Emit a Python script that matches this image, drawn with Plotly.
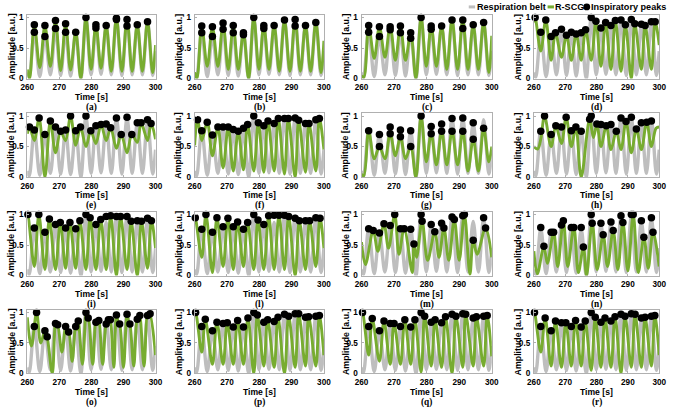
import plotly.graph_objects as go

W, H = 677, 410

# ---------------- data ----------------
x_ticks = [260, 270, 280, 290, 300]
y_ticks = [0, 0.5, 1]
y_tick_text = ["0", "0.5", "1"]
panel_labels = ["(a)", "(b)", "(c)", "(d)", "(e)", "(f)", "(g)", "(h)",
                "(i)", "(l)", "(m)", "(n)", "(o)", "(p)", "(q)", "(r)"]

# respiration belt (common), extrema
belt_t = [260.0, 260.6, 262.2, 263.9, 265.5, 267.2, 268.8, 270.4, 271.95, 273.5, 275.1, 276.7, 278.3,
          279.9, 281.4, 283.0, 284.6, 286.2, 287.8, 289.5, 291.1, 292.7, 294.3, 295.9, 297.5, 299.1, 300.0]
belt_v = [0.10, 0.02, 0.77, 0.03, 0.70, 0.06, 0.82, 0.05, 0.77, 0.04, 0.76, 0.00, 1.00,
          0.06, 0.84, 0.07, 0.87, 0.06, 0.97, 0.05, 0.98, 0.06, 0.89, 0.06, 0.94, 0.05, 0.45]

slow_t = [260.0, 260.7, 262.2, 263.9, 265.5, 267.2, 268.8, 270.4, 271.95, 273.5, 275.1, 276.7, 278.3,
          279.9, 281.4, 283.0, 284.6, 286.2, 287.8, 289.5, 291.1, 292.7, 294.3, 295.9, 297.5, 299.1, 300.0]

# (a)
a_dot_t = [262.2, 262.2, 265.5, 265.5, 268.8, 268.8, 271.95, 271.95, 275.1, 278.3, 281.4, 281.4, 284.6,
           287.8, 287.8, 291.1, 291.1, 294.3, 297.5]
a_dot_v = [0.88, 0.76, 0.87, 0.69, 0.95, 0.82, 0.90, 0.76, 0.76, 1.00, 0.88, 0.83, 0.87,
           0.99, 0.97, 0.97, 0.86, 0.88, 0.93]
a_green_v = [0.15, 0.00, 0.88, 0.18, 0.87, 0.20, 0.95, 0.13, 0.90, 0.14, 0.76, 0.00, 1.00,
             0.15, 0.88, 0.17, 0.87, 0.12, 0.99, 0.12, 0.97, 0.12, 0.88, 0.12, 0.93, 0.10, 0.55]
# (b)
b_dot_t = [262.2, 262.2, 265.5, 265.5, 268.8, 268.8, 271.95, 271.95, 275.1, 275.1, 278.3, 281.4, 281.4,
           284.6, 287.8, 291.1, 291.1, 294.3, 297.5]
b_dot_v = [0.86, 0.75, 0.85, 0.69, 0.91, 0.81, 0.87, 0.75, 0.75, 0.72, 1.00, 0.87, 0.82,
           0.87, 0.96, 0.97, 0.86, 0.87, 0.92]
b_green_v = [0.10, 0.00, 0.86, 0.20, 0.85, 0.20, 0.91, 0.15, 0.87, 0.15, 0.75, 0.00, 1.00,
             0.15, 0.87, 0.15, 0.87, 0.12, 0.96, 0.12, 0.97, 0.12, 0.87, 0.12, 0.92, 0.10, 0.62]
# (c)
c_dot_t = [262.2, 262.2, 265.5, 265.5, 268.8, 268.8, 271.95, 271.95, 275.1, 275.1, 278.3, 281.4, 281.4,
           284.6, 287.8, 291.1, 291.1, 294.3, 297.5]
c_dot_v = [0.87, 0.76, 0.85, 0.69, 0.85, 0.80, 0.86, 0.75, 0.75, 0.66, 1.00, 0.86, 0.81,
           0.86, 0.96, 0.96, 0.82, 0.88, 0.92]
c_green_v = [0.05, 0.02, 0.87, 0.33, 0.85, 0.35, 0.86, 0.30, 0.86, 0.30, 0.75, 0.00, 1.00,
             0.20, 0.86, 0.20, 0.86, 0.15, 0.96, 0.15, 0.96, 0.15, 0.88, 0.15, 0.92, 0.10, 0.70]
# (d)
d_dot_t = [260.4, 262.2, 263.8, 265.5, 266.9, 268.8, 270.4, 271.95, 273.5, 275.1, 276.5, 278.3, 279.8,
           281.4, 282.9, 284.6, 286.0, 287.8, 289.2, 291.1, 292.2, 294.3, 295.5, 297.5, 298.7]
d_dot_v = [1.00, 0.76, 0.96, 0.69, 0.75, 0.81, 0.71, 0.76, 0.73, 0.75, 0.80, 1.00, 0.94,
           0.83, 0.92, 0.87, 0.95, 0.96, 0.88, 0.97, 0.90, 0.89, 0.87, 0.93, 0.93]
d_green_v = [0.92, 1.00, 0.45, 0.96, 0.30, 0.75, 0.35, 0.71, 0.30, 0.73, 0.30, 0.80, 0.30, 0.94,
             0.20, 0.92, 0.15, 0.95, 0.12, 0.88, 0.00, 0.90, 0.15, 0.87, 0.15, 0.93, 0.55]
# (e)
e_dot_t = [260.7, 262.2, 263.7, 265.5, 267.2, 268.8, 270.4, 271.95, 273.5, 275.1, 276.6, 278.3, 279.8,
           281.4, 283.0, 284.6, 286.0, 287.8, 289.3, 291.1, 292.6, 294.3, 295.5, 297.5, 298.6]
e_dot_v = [0.82, 0.77, 0.97, 0.70, 0.92, 0.82, 0.75, 0.77, 1.00, 0.76, 0.82, 1.00, 0.76,
           0.84, 0.86, 0.87, 0.81, 0.97, 0.70, 0.98, 0.70, 0.89, 0.89, 0.94, 0.88]
e_green_v = [0.71, 0.82, 0.60, 0.97, 0.00, 0.92, 0.40, 0.75, 0.60, 1.00, 0.52, 0.82, 0.50, 0.76,
             0.55, 0.86, 0.60, 0.81, 0.47, 0.70, 0.40, 0.70, 0.57, 0.89, 0.60, 0.88, 0.62]
# (f)
f_dot_t = [260.9, 262.2, 263.9, 265.5, 267.2, 268.8, 270.4, 271.95, 273.5, 275.1, 276.4, 278.3, 279.7,
           281.4, 282.7, 284.6, 285.9, 287.8, 289.0, 291.1, 292.2, 294.3, 295.4, 297.5, 298.6]
f_dot_v = [0.94, 0.76, 0.90, 0.69, 0.82, 0.82, 0.82, 0.78, 0.75, 0.80, 0.86, 1.00, 0.89,
           0.84, 0.92, 0.88, 0.96, 0.96, 0.96, 0.97, 0.93, 0.88, 0.88, 0.94, 0.96]
f_green_v = [0.52, 0.94, 0.60, 0.90, 0.35, 0.82, 0.15, 0.82, 0.10, 0.75, 0.12, 0.86, 0.10, 0.89,
             0.08, 0.92, 0.10, 0.96, 0.05, 0.96, 0.00, 0.93, 0.08, 0.88, 0.10, 0.96, 0.45]
# (g)
g_dot_t = [262.2, 265.5, 265.5, 268.8, 268.8, 271.95, 271.95, 275.1, 275.1, 278.3, 281.4, 281.4,
           284.6, 284.6, 287.8, 287.8, 291.1, 291.1, 294.3, 294.3, 297.5]
g_dot_v = [0.76, 0.70, 0.50, 0.82, 0.71, 0.77, 0.66, 0.76, 0.50, 1.00, 0.83, 0.71,
           0.87, 0.75, 0.96, 0.75, 0.97, 0.75, 0.89, 0.62, 0.80]
g_green_v = [0.05, 0.02, 0.76, 0.30, 0.50, 0.30, 0.71, 0.35, 0.66, 0.30, 0.50, 0.00, 1.00,
             0.25, 0.71, 0.20, 0.75, 0.20, 0.75, 0.20, 0.75, 0.10, 0.62, 0.10, 0.80, 0.25, 0.50]
# (h)
h_dot_t = [262.2, 263.4, 265.5, 267.0, 268.8, 270.3, 271.95, 273.4, 275.1, 277.8, 278.3, 280.1,
           281.4, 283.1, 284.6, 286.3, 287.8, 289.4, 291.1, 292.7, 294.3, 296.0, 297.5]
h_dot_v = [0.75, 1.00, 0.70, 0.84, 0.82, 0.98, 0.76, 0.82, 0.75, 0.95, 1.00, 0.87,
           0.86, 0.84, 0.86, 0.75, 0.97, 0.91, 0.98, 0.79, 0.89, 0.90, 0.92]
h_green_t = [260.0, 261.2, 262.2, 263.4, 265.5, 267.0, 268.8, 270.3, 271.95, 273.4, 275.1, 277.8, 279.0,
             280.1, 281.4, 283.1, 284.6, 286.3, 287.8, 289.4, 291.1, 292.7, 294.3, 296.0, 297.5, 299.0, 300.0]
h_green_v = [0.50, 0.46, 0.62, 1.00, 0.50, 0.84, 0.55, 0.98, 0.50, 0.82, 0.00, 0.95, 0.65,
             0.87, 0.50, 0.84, 0.45, 0.75, 0.45, 0.91, 0.40, 0.79, 0.45, 0.90, 0.50, 0.80, 0.82]
# (i)
i_dot_t = [260.2, 262.2, 263.6, 265.5, 266.9, 268.8, 270.3, 271.95, 273.3, 275.1, 276.4, 278.3, 279.6,
           281.4, 282.9, 284.6, 286.0, 287.8, 289.1, 291.1, 292.4, 294.3, 295.6, 297.5, 298.7]
i_dot_v = [1.00, 0.78, 1.00, 0.71, 0.93, 0.84, 0.87, 0.78, 0.87, 0.77, 0.90, 1.00, 0.95,
           0.84, 0.92, 0.97, 0.98, 0.97, 0.97, 0.97, 0.89, 0.90, 0.89, 0.94, 0.90]
i_green_v = [0.93, 1.00, 0.15, 1.00, 0.10, 0.93, 0.10, 0.87, 0.12, 0.87, 0.12, 0.90, 0.10, 0.95,
             0.10, 0.92, 0.10, 0.98, 0.00, 0.97, 0.10, 0.89, 0.00, 0.89, 0.12, 0.90, 0.45]
# (l)
l_dot_t = [260.2, 262.2, 263.5, 265.5, 266.9, 268.8, 270.3, 271.95, 273.3, 275.1, 276.4, 278.3, 279.6,
           281.4, 282.9, 284.6, 286.1, 287.8, 289.1, 291.1, 292.4, 294.3, 295.6, 297.5, 298.8]
l_dot_v = [0.95, 0.76, 1.00, 0.71, 0.95, 0.80, 0.94, 0.80, 0.88, 0.76, 0.87, 1.00, 0.91,
           0.84, 0.98, 0.99, 0.99, 0.99, 0.97, 0.94, 0.90, 0.90, 0.90, 0.95, 0.94]
l_green_v = [0.90, 0.95, 0.30, 1.00, 0.05, 0.95, 0.15, 0.94, 0.10, 0.88, 0.15, 0.87, 0.10, 0.91,
             0.10, 0.98, 0.10, 0.99, 0.10, 0.97, 0.00, 0.90, 0.10, 0.90, 0.15, 0.94, 0.45]
# (m)
m_dot_t = [262.2, 263.6, 265.5, 266.9, 268.8, 270.2, 271.95, 273.1, 275.1, 276.1, 278.3, 278.6,
           281.4, 282.5, 284.6, 285.3, 287.8, 288.5, 291.1, 291.6, 294.3, 297.5, 298.1]
m_dot_v = [0.77, 0.74, 0.70, 0.85, 0.82, 1.00, 0.77, 0.77, 0.76, 0.52, 1.00, 0.89,
           0.84, 0.72, 0.86, 0.78, 0.96, 0.92, 0.98, 1.00, 0.58, 0.95, 0.78]
m_green_t = [260.0, 261.2, 263.6, 265.0, 266.9, 268.3, 270.2, 271.5, 273.1, 275.6, 276.1, 276.9, 278.6,
             280.3, 282.5, 283.8, 285.3, 286.8, 288.5, 290.0, 291.6, 293.3, 294.3, 295.5, 298.1, 300.0]
m_green_v = [0.55, 0.18, 0.74, 0.40, 0.85, 0.45, 1.00, 0.35, 0.77, 0.05, 0.52, 0.30, 0.89,
             0.25, 0.72, 0.30, 0.78, 0.25, 0.92, 0.25, 1.00, 0.02, 0.58, 0.35, 0.78, 0.30]
# (n)
n_dot_t = [262.2, 263.2, 265.5, 266.3, 268.8, 269.4, 271.95, 272.75, 275.1, 275.8, 278.3, 278.6,
           281.4, 282.1, 284.6, 285.3, 287.8, 288.4, 291.1, 291.7, 294.3, 295.1, 297.5, 298.0]
n_dot_v = [0.79, 0.48, 0.71, 0.71, 0.83, 0.90, 0.79, 0.79, 0.79, 0.47, 1.00, 0.86,
           0.86, 0.67, 0.88, 0.74, 0.98, 0.87, 1.00, 1.00, 0.90, 0.63, 0.95, 0.71]
n_green_t = [260.0, 261.1, 263.2, 264.3, 266.3, 267.6, 269.4, 270.8, 272.75, 274.2, 275.8, 276.8, 278.6,
             280.2, 282.1, 283.5, 285.3, 286.8, 288.4, 290.0, 291.7, 293.3, 295.1, 296.5, 298.0, 300.0]
n_green_v = [0.40, 0.03, 0.48, 0.20, 0.71, 0.15, 0.90, 0.15, 0.79, 0.05, 0.47, 0.00, 0.86,
             0.10, 0.67, 0.15, 0.74, 0.10, 0.87, 0.08, 1.00, 0.05, 0.63, 0.12, 0.71, 0.15]
# (o)
o_dot_t = [262.2, 262.9, 265.5, 266.2, 268.8, 269.5, 271.95, 272.9, 275.1, 275.9, 278.3, 279.0,
           281.4, 282.3, 284.6, 285.3, 285.9, 287.8, 288.8, 291.1, 292.0, 294.3, 295.1, 297.5, 298.3]
o_dot_v = [0.77, 1.00, 0.70, 0.60, 0.82, 0.80, 0.77, 0.68, 0.77, 0.86, 1.00, 0.91,
           0.84, 0.87, 0.81, 0.88, 0.88, 0.96, 0.81, 0.97, 0.81, 0.89, 0.95, 0.95, 0.98]
o_green_t = [260.0, 261.3, 262.9, 264.2, 265.5, 266.2, 267.8, 268.8, 269.2, 269.5, 270.8, 271.95,
             272.4, 272.9, 274.0, 275.1, 275.5, 275.9, 277.2, 278.3, 278.6, 279.0, 280.4, 281.4,
             281.8, 282.3, 283.5, 284.6, 285.3, 285.6, 285.9, 287.0, 287.8, 288.3, 288.8, 290.0,
             291.1, 291.6, 292.0, 293.2, 294.3, 294.7, 295.1, 296.4, 297.5, 297.9, 298.3, 300.0]
o_green_v = [0.92, 0.45, 1.00, 0.50, 0.70, 0.60, 0.00, 0.82, 0.76, 0.80, 0.35, 0.77,
             0.65, 0.68, 0.20, 0.77, 0.72, 0.86, 0.15, 1.00, 0.88, 0.91, 0.15, 0.84,
             0.80, 0.87, 0.15, 0.81, 0.88, 0.84, 0.88, 0.10, 0.96, 0.85, 0.81, 0.10,
             0.97, 0.85, 0.81, 0.12, 0.89, 0.86, 0.95, 0.12, 0.95, 0.92, 0.98, 0.30]
# (p)
p_dot_t = [260.3, 262.2, 263.3, 265.5, 266.9, 268.8, 270.1, 271.95, 273.3, 275.1, 276.5, 278.3, 279.4,
           281.4, 282.6, 284.6, 285.8, 287.8, 289.1, 291.1, 292.2, 294.3, 295.3, 297.5, 298.6]
p_dot_v = [1.00, 0.77, 0.89, 0.70, 0.84, 0.82, 0.83, 0.76, 0.87, 0.76, 0.91, 1.00, 0.96,
           0.84, 0.88, 0.85, 0.92, 0.97, 0.94, 0.98, 0.98, 0.92, 0.93, 0.94, 0.95]
p_green_v = [0.97, 1.00, 0.35, 0.89, 0.15, 0.84, 0.15, 0.83, 0.15, 0.87, 0.15, 0.91, 0.00, 0.96,
             0.12, 0.88, 0.10, 0.92, 0.00, 0.94, 0.10, 0.98, 0.12, 0.93, 0.12, 0.95, 0.30]
# (q)
q_dot_t = [260.3, 262.2, 263.3, 265.5, 266.9, 268.8, 270.0, 271.95, 273.3, 275.1, 276.4, 278.3, 279.4,
           281.4, 282.6, 284.6, 285.8, 287.8, 289.0, 291.1, 292.0, 294.3, 295.3, 297.5, 298.6]
q_dot_v = [1.00, 0.77, 0.90, 0.70, 0.86, 0.82, 0.82, 0.77, 0.88, 0.76, 0.88, 1.00, 0.94,
           0.84, 0.88, 0.83, 0.93, 0.97, 0.94, 0.98, 0.97, 0.91, 0.93, 0.94, 0.95]
q_green_v = [0.97, 1.00, 0.30, 0.90, 0.20, 0.86, 0.15, 0.82, 0.15, 0.88, 0.15, 0.88, 0.02, 0.94,
             0.12, 0.88, 0.10, 0.93, 0.00, 0.94, 0.10, 0.97, 0.12, 0.93, 0.12, 0.95, 0.28]
# (r)
r_dot_t = [260.2, 262.2, 263.6, 265.5, 266.9, 268.8, 270.2, 271.95, 273.3, 275.1, 276.4, 278.3, 279.6,
           281.4, 282.7, 284.6, 285.9, 287.8, 289.1, 291.1, 292.3, 294.3, 295.5, 297.5, 298.6]
r_dot_v = [1.00, 0.77, 0.91, 0.70, 0.86, 0.83, 0.83, 0.77, 0.87, 0.76, 0.86, 1.00, 0.92,
           0.84, 0.91, 0.86, 0.93, 0.97, 0.94, 0.98, 0.97, 0.91, 0.92, 0.94, 0.95]
r_green_v = [0.97, 1.00, 0.35, 0.91, 0.12, 0.86, 0.10, 0.83, 0.12, 0.87, 0.12, 0.86, 0.05, 0.92,
             0.10, 0.91, 0.10, 0.93, 0.00, 0.94, 0.10, 0.97, 0.10, 0.92, 0.12, 0.95, 0.30]

START, END = [260.0], [300.0]
panels = [
    (a_dot_t, a_dot_v, slow_t, a_green_v),
    (b_dot_t, b_dot_v, slow_t, b_green_v),
    (c_dot_t, c_dot_v, slow_t, c_green_v),
    (d_dot_t, d_dot_v, START + d_dot_t + END, d_green_v),
    (e_dot_t, e_dot_v, START + e_dot_t + END, e_green_v),
    (f_dot_t, f_dot_v, START + f_dot_t + END, f_green_v),
    (g_dot_t, g_dot_v, slow_t, g_green_v),
    (h_dot_t, h_dot_v, h_green_t, h_green_v),
    (i_dot_t, i_dot_v, START + i_dot_t + END, i_green_v),
    (l_dot_t, l_dot_v, START + l_dot_t + END, l_green_v),
    (m_dot_t, m_dot_v, m_green_t, m_green_v),
    (n_dot_t, n_dot_v, n_green_t, n_green_v),
    (o_dot_t, o_dot_v, o_green_t, o_green_v),
    (p_dot_t, p_dot_v, START + p_dot_t + END, p_green_v),
    (q_dot_t, q_dot_v, START + q_dot_t + END, q_green_v),
    (r_dot_t, r_dot_v, START + r_dot_t + END, r_green_v),
]

# ---------------- layout geometry (pixels) ----------------
col_x = [(20.7, 151.7), (191.6, 323.6), (362.0, 495.0), (538.0, 666.0)]
row_y0 = [78.7, 178.7, 278.7, 378.0]   # pixel y of value 0
box_h = 64.7
Y_MAX = 1.045

GRAY = "#bebebe"
GREEN = "#77ac30"
FRAME = "#b0b0b0"
SANS = "Liberation Sans, Arial, sans-serif"
SERIF = "Liberation Serif, Times New Roman, serif"

fig = go.Figure()
layout = dict(width=W, height=H, margin=dict(l=0, r=0, t=0, b=0),
              paper_bgcolor="white", plot_bgcolor="white", showlegend=False)
annotations = []
shapes = []

def px_x(x):
    return x / W

def px_y(y):
    return 1 - y / H

for k, (dt, dv, gt, gv) in enumerate(panels):
    r, c = divmod(k, 4)
    xn = "x" if k == 0 else f"x{k+1}"
    yn = "y" if k == 0 else f"y{k+1}"
    xl = "xaxis" if k == 0 else f"xaxis{k+1}"
    yl = "yaxis" if k == 0 else f"yaxis{k+1}"
    x0p, x1p = col_x[c]
    y0p = row_y0[r]
    ytp = y0p - box_h

    fig.add_trace(go.Scatter(x=belt_t, y=belt_v, mode="lines", xaxis=xn, yaxis=yn,
                             line=dict(color=GRAY, width=3.4, shape="spline", smoothing=1.0),
                             hoverinfo="skip"))
    fig.add_trace(go.Scatter(x=gt, y=gv, mode="lines", xaxis=xn, yaxis=yn,
                             line=dict(color=GREEN, width=2.9, shape="spline", smoothing=1.0),
                             hoverinfo="skip"))
    fig.add_trace(go.Scatter(x=dt, y=dv, mode="markers", xaxis=xn, yaxis=yn, cliponaxis=False,
                             marker=dict(color="black", size=7.5), hoverinfo="skip"))

    layout[xl] = dict(domain=[px_x(x0p), px_x(x1p)], anchor=yn, range=[260, 300],
                      tickvals=x_ticks, ticks="inside", ticklen=2, tickcolor=FRAME,
                      showline=True, linecolor=FRAME, linewidth=1, mirror=True,
                      showgrid=False, zeroline=False, ticklabelstandoff=1,
                      tickfont=dict(family=SANS, size=8.2, color="black", weight="bold"))
    layout[yl] = dict(domain=[px_y(y0p), px_y(ytp)], anchor=xn, range=[0, Y_MAX],
                      tickvals=y_ticks, ticktext=y_tick_text, ticks="inside", ticklen=2,
                      tickcolor=FRAME, showline=True, linecolor=FRAME, linewidth=1, mirror=True,
                      showgrid=False, zeroline=False, ticklabelstandoff=1,
                      tickfont=dict(family=SANS, size=8.2, color="black", weight="bold"))

    cx = (x0p + x1p) / 2
    annotations.append(dict(text="Time [s]", x=px_x(cx), y=px_y(y0p + 18.3), xref="paper", yref="paper",
                            showarrow=False, xanchor="center", yanchor="middle", borderpad=0,
                            font=dict(family=SANS, size=8.6, color="black", weight="bold")))
    annotations.append(dict(text=panel_labels[k], x=px_x(cx), y=px_y(y0p + 29.2), xref="paper", yref="paper",
                            showarrow=False, xanchor="center", yanchor="middle", borderpad=0,
                            font=dict(family=SERIF, size=9.3, color="black", weight="bold")))
    annotations.append(dict(text="Amplitude [a.u.]", x=px_x(x0p - 16.4), y=px_y(y0p - box_h / 2),
                            xref="paper", yref="paper", showarrow=False, textangle=-90,
                            xanchor="center", yanchor="middle", borderpad=0,
                            font=dict(family=SANS, size=8.8, color="black", weight="bold")))

# manual legend (top right)
LEG_Y = 6.0
legend_items = [("Respiration belt", GRAY, "line", 471.5, 479.0),
                ("R-SCG", GREEN, "line", 552.0, 559.0),
                ("Inspiratory peaks", "black", "dot", 592.0, 595.8)]
for text, col, kind, sx, tx in legend_items:
    if kind == "line":
        shapes.append(dict(type="line", xref="paper", yref="paper",
                           x0=px_x(sx), x1=px_x(sx + 6.5), y0=px_y(LEG_Y), y1=px_y(LEG_Y),
                           line=dict(color=col, width=3)))
    else:
        shapes.append(dict(type="circle", xref="paper", yref="paper",
                           x0=px_x(sx - 3.5), x1=px_x(sx + 3.5), y0=px_y(LEG_Y + 3.5), y1=px_y(LEG_Y - 3.5),
                           fillcolor=col, line=dict(color=col, width=0)))
    annotations.append(dict(text=text, x=px_x(tx), y=px_y(LEG_Y), xref="paper", yref="paper",
                            showarrow=False, xanchor="left", yanchor="middle", borderpad=0,
                            font=dict(family=SANS, size=9.1, color="black", weight="bold")))

layout["annotations"] = annotations
layout["shapes"] = shapes
fig.update_layout(**layout)
fig.write_html("out.html")
